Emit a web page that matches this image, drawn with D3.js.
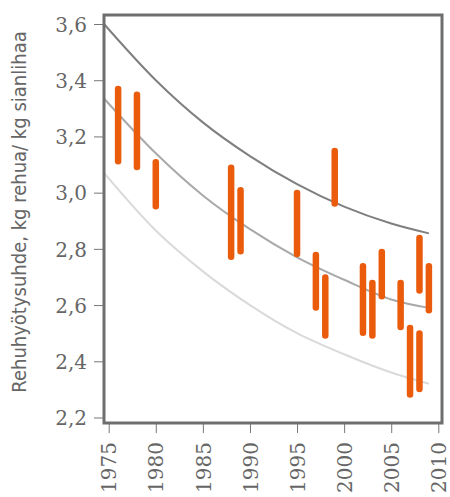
<!DOCTYPE html>
<html>
<head>
<meta charset="utf-8">
<script src="https://cdn.jsdelivr.net/npm/d3@7"></script>
<style>
  body { margin: 0; background: #fff; }
  svg { display: block; }
  .tick-label { font-family: "DejaVu Serif", "Liberation Serif", serif; font-size: 20px; fill: #666; }
  .ytitle { font-family: "Liberation Sans Narrow", "DejaVu Sans Condensed", sans-serif; font-size: 20px; fill: #666; }
</style>
</head>
<body>
<div id="chart"></div>
<script>
// tick values
const year_ticks = [1975, 1980, 1985, 1990, 1995, 2000, 2005, 2010];
const ratio_ticks = [2.2, 2.4, 2.6, 2.8, 3.0, 3.2, 3.4, 3.6];

// orange bars: year, low, high
const bar_years = [1976, 1978, 1980, 1988, 1989, 1995, 1997, 1998, 1999, 2002, 2003, 2004, 2006, 2007, 2008, 2008, 2009];
const bar_low   = [3.10, 3.08, 2.94, 2.76, 2.78, 2.77, 2.58, 2.48, 2.95, 2.49, 2.48, 2.62, 2.51, 2.27, 2.64, 2.29, 2.57];
const bar_high  = [3.38, 3.36, 3.12, 3.10, 3.02, 3.01, 2.79, 2.71, 3.16, 2.75, 2.69, 2.80, 2.69, 2.53, 2.85, 2.51, 2.75];

// trend curves
const curve_years = [1974.5, 1980, 1985, 1990, 1995, 2000, 2005, 2009];
const curve_top    = [3.60, 3.40, 3.25, 3.13, 3.03, 2.95, 2.89, 2.855];
const curve_mid    = [3.335, 3.14, 2.99, 2.87, 2.77, 2.69, 2.62, 2.59];
const curve_low    = [3.07, 2.865, 2.72, 2.60, 2.50, 2.425, 2.36, 2.32];

const width = 450, height = 497;
const margin = {left: 104, top: 15, right: 8, bottom: 74};
const plot_w = width - margin.left - margin.right;
const plot_h = height - margin.top - margin.bottom;

const svg = d3.select('#chart').append('svg')
    .attr('width', width)
    .attr('height', height);

const grp = svg.append('g')
    .attr('transform', 'translate(' + margin.left + ',' + margin.top + ')');

const x = d3.scaleLinear()
    .domain([1975, 2010])
    .range([4.7, 334.3]);

const y = d3.scaleLinear()
    .domain([2.2, 3.6])
    .range([402.5, 9]);

const fmt = d3.formatLocale({decimal: ',', thousands: ' ', grouping: [3], currency: ['', '']}).format('.1f');

// y axis ticks
const yax = grp.append('g')
    .call(d3.axisLeft(y).tickValues(ratio_ticks).tickSize(10).tickFormat(fmt));
yax.attr('font-family', null).attr('font-size', null);
yax.select('.domain').remove();
yax.selectAll('line').attr('stroke', '#777').attr('stroke-width', 1);
yax.selectAll('text')
    .attr('class', 'tick-label')
    .attr('x', -17)
    .attr('dy', '0.36em')
    .attr('fill', null);

// x axis ticks, labels rotated
const xax = grp.append('g')
    .attr('transform', 'translate(0,' + plot_h + ')')
    .call(d3.axisBottom(x).tickValues(year_ticks).tickSize(10).tickFormat(d3.format('d')));
xax.attr('font-family', null).attr('font-size', null);
xax.select('.domain').remove();
xax.selectAll('line').attr('stroke', '#777').attr('stroke-width', 1);
xax.selectAll('text')
    .attr('class', 'tick-label')
    .attr('fill', null)
    .attr('text-anchor', 'end')
    .attr('transform', 'rotate(-90)')
    .attr('x', -19)
    .attr('y', 0)
    .attr('dy', '0.36em');

// trend lines
const line = d3.line()
    .x((d, i) => x(curve_years[i]))
    .y(d => y(d))
    .curve(d3.curveMonotoneX);

const curves = [
    {vals: curve_low, color: '#dadada'},
    {vals: curve_mid, color: '#a9a9a9'},
    {vals: curve_top, color: '#7f7f7f'}
];
curves.forEach(c => {
    grp.append('path')
        .attr('d', line(c.vals))
        .attr('fill', 'none')
        .attr('stroke', c.color)
        .attr('stroke-width', 2);
});

// bars
const bar_w = 6.5;
grp.selectAll('rect.bar')
    .data(bar_years)
    .enter()
  .append('rect')
    .attr('class', 'bar')
    .attr('x', d => x(d) - bar_w / 2)
    .attr('width', bar_w)
    .attr('y', (d, i) => y(bar_high[i]))
    .attr('height', (d, i) => y(bar_low[i]) - y(bar_high[i]))
    .attr('rx', bar_w / 2)
    .attr('fill', '#ea5b0c');

// frame
grp.append('rect')
    .attr('x', 0)
    .attr('y', 0)
    .attr('width', plot_w)
    .attr('height', plot_h)
    .attr('fill', 'none')
    .attr('stroke', '#6e6e6e')
    .attr('stroke-width', 3);

// y title
svg.append('text')
    .attr('class', 'ytitle')
    .attr('text-anchor', 'middle')
    .attr('transform', 'translate(26,212) rotate(-90)')
    .text('Rehuhyötysuhde, kg rehua/ kg sianlihaa');
</script>
</body>
</html>
